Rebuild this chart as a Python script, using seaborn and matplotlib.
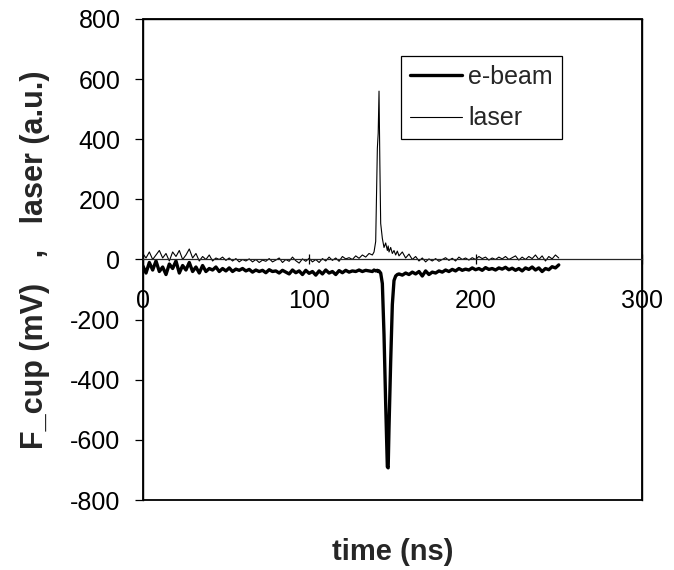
import matplotlib
matplotlib.use('Agg')
import matplotlib.pyplot as plt
import seaborn as sns

# sample times (ns)
time = [
    0, 2, 4, 6, 8, 10, 12, 14, 16, 18, 20, 22, 24, 26, 28, 30,
    32, 34, 36, 38, 40, 42, 44, 46, 48, 50, 52, 54, 56, 58, 60,
    62, 64, 66, 68, 70, 72, 74, 76, 78, 80, 82, 84, 86, 88, 90, 92, 94, 96, 98, 100,
    102, 104, 106, 108, 110, 112, 114, 116, 118, 120, 122, 124, 126, 128, 130, 132, 134, 136, 138,
    139, 140, 141, 141.5, 142, 142.5, 143, 144, 145, 146, 147, 147.5, 148, 149, 150, 151, 152, 153, 154,
    156, 158, 160, 162, 164, 166, 168, 170, 172, 174,
    176, 178, 180, 182, 184, 186, 188, 190, 192, 194,
    196, 198, 200, 202, 204, 206, 208, 210, 212, 214,
    216, 218, 220, 222, 224, 226, 228, 230, 232, 234,
    236, 238, 240, 242, 244, 246, 248, 250,
]

# Faraday cup signal (mV)
ebeam = [
    -20, -45, -10, -35, -5, -40, -25, -50, -15, -30, -5, -45, -20, -35, -10, -40,
    -25, -45, -20, -40, -30, -35, -25, -40, -30, -38, -28, -40, -32, -36, -30,
    -38, -33, -42, -35, -40, -36, -44, -34, -40, -38, -45, -36, -42, -48, -35, -44, -38, -50, -36, -46,
    -40, -52, -38, -48, -35, -45, -40, -50, -37, -44, -36, -42, -38, -40, -35, -40, -36, -38, -40,
    -35, -38, -36, -40, -38, -42, -45, -80, -250, -480, -690, -693, -560, -340, -150, -70, -55, -50, -48,
    -52, -45, -50, -42, -48, -40, -55, -38, -50, -42,
    -45, -38, -42, -35, -40, -33, -38, -30, -36, -32,
    -35, -28, -34, -30, -36, -27, -33, -30, -35, -28,
    -32, -26, -34, -29, -36, -30, -38, -28, -33, -25,
    -35, -28, -40, -30, -34, -24, -28, -18,
]

# laser photodiode signal (a.u.)
laser = [
    20, 5, 25, 0, 15, 30, 5, 20, -5, 25, 10, 30, 0, 15, 35, 5,
    20, -5, 10, 0, 15, -5, 5, 0, 8, -3, 5, -5, 3, -8, 0,
    -5, 2, -8, 0, -10, -2, -6, 3, -8, -2, 5, -10, 0, -6, 8, -4, -12, 2, -6, 4,
    -8, 0, -10, 3, -5, 8, -3, 5, -6, 10, 2, 6, 0, 12, 4, 15, 8, 20, 15,
    25, 60, 370, 420, 560, 320, 120, 70, 40, 55, 30, 45, 25, 40, 20, 30, 15, 28, 12,
    25, 5, 18, 0, 10, -5, 5, -8, 2, -5,
    3, -6, 0, 6, -3, 4, -5, 8, 0, 5,
    -2, 6, 0, 10, 3, 8, -2, 5, 0, 8,
    2, 10, 0, 6, 12, -2, 8, 0, 10, 3,
    15, 0, 12, -5, 10, 2, 15, 5,
]

x_ticks = [0, 100, 200, 300]
y_ticks = [-800, -600, -400, -200, 0, 200, 400, 600, 800]

sns.set_style('ticks')
plt.rcParams['font.family'] = ['Liberation Sans', 'DejaVu Sans']
plt.rcParams['axes.unicode_minus'] = False

fig = plt.figure(figsize=(6.74, 5.70), dpi=100)
ax = fig.add_axes([0.2117, 0.1228, 0.7408, 0.8439])

sns.lineplot(x=time, y=ebeam, ax=ax, color='black', linewidth=2.4,
             label='e-beam', estimator=None, sort=False)
sns.lineplot(x=time, y=laser, ax=ax, color='black', linewidth=0.8,
             label='laser', estimator=None, sort=False)

ax.set_xlim(0, 300)
ax.set_ylim(-800, 800)
ax.set_xticks(x_ticks)
ax.set_yticks(y_ticks)

# x axis crosses at zero, plot area keeps a full border
ax.spines['bottom'].set_position(('data', 0))
ax.spines['bottom'].set_linewidth(0.9)
for s in ['left', 'right', 'top']:
    ax.spines[s].set_linewidth(1.0)
    ax.spines[s].set_color('black')
ax.patch.set_edgecolor('black')
ax.patch.set_linewidth(1.3)

ax.tick_params(axis='x', direction='inout', length=7, width=0.9,
               pad=18, labelsize=18, colors='black')
ax.tick_params(axis='y', direction='out', length=6, width=0.9,
               pad=10, labelsize=18, colors='black')

ax.set_xlabel('time (ns)', fontsize=21, fontweight='bold')
ax.set_ylabel('F_cup (mV)   ,   laser (a.u.)', fontsize=22, fontweight='bold')
ax.xaxis.set_label_coords(0.5, -0.078)
ax.yaxis.set_label_coords(-0.185, 0.5)

leg = ax.legend(loc='upper left', bbox_to_anchor=(0.517, 0.923),
                fontsize=18, frameon=True, fancybox=False, framealpha=1,
                edgecolor='black', borderaxespad=0, handlelength=2.1,
                handletextpad=0.25, borderpad=0.35, labelspacing=0.7)
leg.get_frame().set_linewidth(0.9)

fig.savefig('out.png', dpi=100)
plt.close(fig)
